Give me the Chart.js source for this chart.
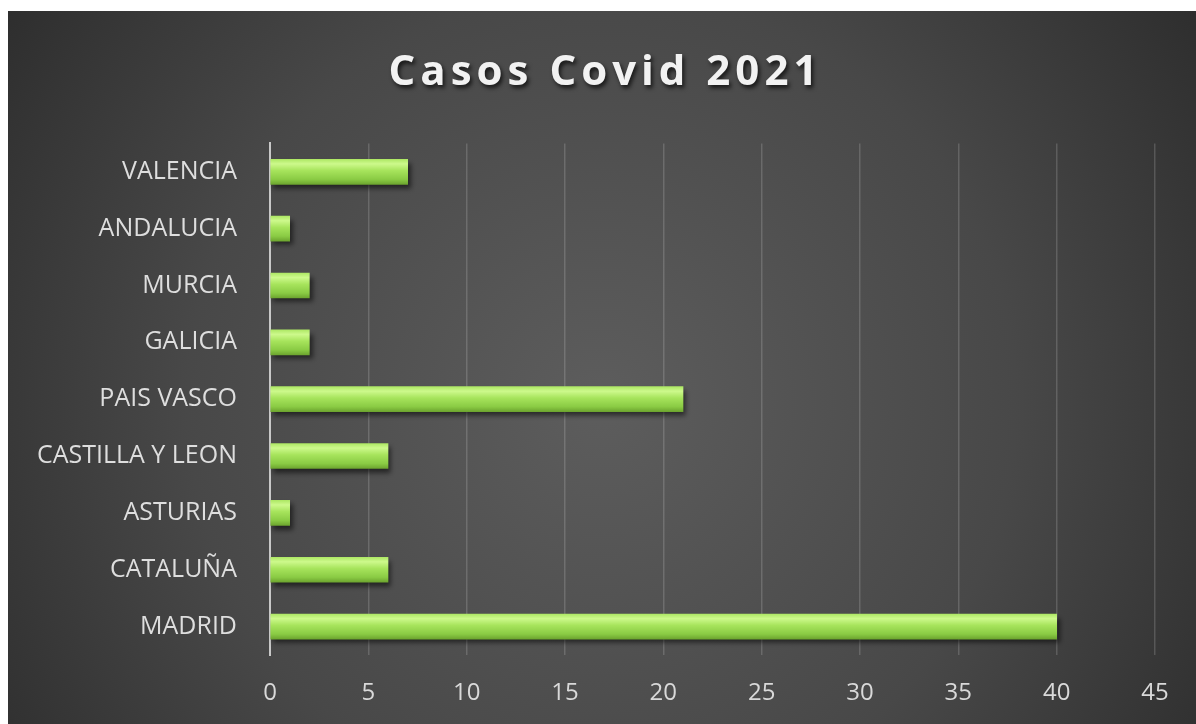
<!DOCTYPE html>
<html lang="es">
<head>
<meta charset="utf-8">
<title>Casos Covid 2021</title>
<script src="https://cdn.jsdelivr.net/npm/chart.js@4/dist/chart.umd.min.js"></script>
<style>
    html, body { margin: 0; padding: 0; background: #ffffff; }
    #wrap { position: absolute; left: 8px; top: 11px; width: 1188px; height: 713px; }
</style>
</head>
<body>
<div id="wrap"><canvas id="casosChart"></canvas></div>
<script>
const comunidades = ['MADRID', 'CATALUÑA', 'ASTURIAS', 'CASTILLA Y LEON', 'PAIS VASCO', 'GALICIA', 'MURCIA', 'ANDALUCIA', 'VALENCIA'];
const casos = [40, 6, 1, 6, 21, 2, 2, 1, 7];
const tituloGrafico = 'Casos Covid 2021';

const BAR_THICKNESS = 25;

// fondo oscuro con degradado radial
const fondoPlugin = {
    id: 'fondo',
    beforeDraw(chart) {
        const { ctx, width, height } = chart;
        const g = ctx.createRadialGradient(width * 0.5, height * 0.55, 20, width * 0.5, height * 0.55, width * 0.62);
        g.addColorStop(0, '#5c5c5c');
        g.addColorStop(0.55, '#484848');
        g.addColorStop(1, '#2c2c2c');
        ctx.save();
        ctx.fillStyle = g;
        ctx.fillRect(0, 0, width, height);
        ctx.restore();

        // título con espaciado y sombra
        const tb = chart.titleBlock;
        if (tb && !tb._wrapped) {
            const draw = tb.draw;
            tb.draw = function () {
                const c = this.ctx;
                c.save();
                c.translate(24, 2);
                c.letterSpacing = '5px';
                c.shadowColor = 'rgba(0,0,0,0.7)';
                c.shadowOffsetX = 2;
                c.shadowOffsetY = 3;
                c.shadowBlur = 4;
                draw.apply(this, arguments);
                c.restore();
            };
            tb._wrapped = true;
        }
    }
};

// sombra bajo las barras
const sombraPlugin = {
    id: 'sombra',
    beforeDatasetsDraw(chart) {
        const ctx = chart.ctx;
        ctx.save();
        ctx.shadowColor = 'rgba(0,0,0,0.55)';
        ctx.shadowOffsetX = 3;
        ctx.shadowOffsetY = 4;
        ctx.shadowBlur = 5;
    },
    afterDatasetsDraw(chart) {
        chart.ctx.restore();
    }
};

function colorBarra(context) {
    const y = context.chart.scales.y;
    if (context.type !== 'data' || !y) return '#9ad94e';
    const cy = y.getPixelForValue(context.dataIndex);
    if (!isFinite(cy)) return '#9ad94e';
    const g = context.chart.ctx.createLinearGradient(0, cy - BAR_THICKNESS / 2, 0, cy + BAR_THICKNESS / 2);
    g.addColorStop(0, '#aee865');
    g.addColorStop(0.18, '#cdf98c');
    g.addColorStop(0.45, '#a7e45c');
    g.addColorStop(0.8, '#8acb44');
    g.addColorStop(1, '#6da52f');
    return g;
}

new Chart(document.getElementById('casosChart'), {
    type: 'bar',
    data: {
        labels: comunidades,
        datasets: [{
            label: 'Casos',
            data: casos,
            backgroundColor: colorBarra,
            borderWidth: 0,
            barThickness: BAR_THICKNESS,
        }],
    },
    options: {
        indexAxis: 'y',
        responsive: true,
        maintainAspectRatio: false,
        animation: false,
        layout: {
            padding: { left: 0, right: 41, top: 0, bottom: 0 },
        },
        plugins: {
            legend: { display: false },
            tooltip: { enabled: false },
            title: {
                display: true,
                text: tituloGrafico,
                color: '#f2f2f2',
                font: { family: '"Open Sans"', size: 42, weight: 'bold', lineHeight: 1.2 },
                padding: { top: 35, bottom: 47 },
            },
        },
        scales: {
            x: {
                min: 0,
                max: 45,
                afterFit(scale) { scale.height = 69; },
                ticks: {
                    stepSize: 5,
                    color: '#d9d9d9',
                    padding: 24,
                    font: { family: '"Open Sans"', size: 24 },
                },
                grid: {
                    color: 'rgba(255,255,255,0.16)',
                    lineWidth: 1.5,
                    drawTicks: false,
                },
                border: { display: false },
            },
            y: {
                reverse: true,
                afterFit(scale) { scale.width = 262; },
                ticks: {
                    color: '#dedede',
                    padding: 25,
                    font: { family: '"Open Sans"', size: 25 },
                },
                grid: { display: false },
                border: { display: true, color: '#c8c8c8', width: 2 },
            },
        },
    },
    plugins: [fondoPlugin, sombraPlugin],
});
</script>
</body>
</html>
